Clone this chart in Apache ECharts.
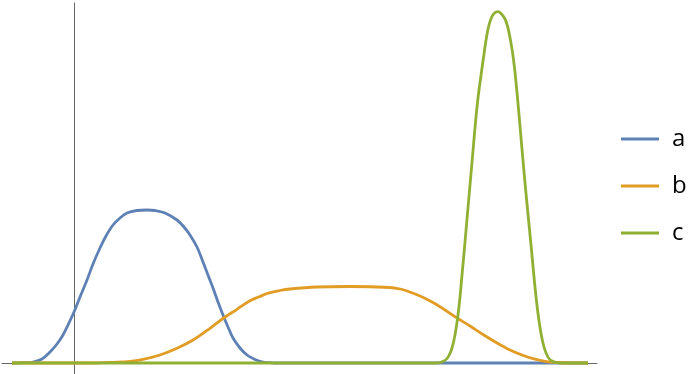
<!DOCTYPE html>
<html>
<head>
<meta charset="utf-8">
<script src="https://cdn.jsdelivr.net/npm/echarts@6/dist/echarts.min.js"></script>
<style>html,body{margin:0;padding:0;background:#fff;}#c{width:700px;height:374px;}</style>
</head>
<body>
<div id="c"></div>
<script>
// Arbitrary units (the reference has no tick labels)
var seriesNames = ["a", "b", "c"];
var aX = [-62,-49,-41,-32,-24,-17,-11,-6,0,6,13,19,26,32,39,46,53,63,73,81,91,103,110,116,123,129,134,139,144,149,154,159,166,173,181,189,198,206,514];
var aY = [0,0.3,1,4,11,19,28,38,51,66,83,99,115,127,138,145,150,152.5,153,152.5,150,143,136,128,116,101,88,75,61,48,36,25,15,8,3.5,1,0.2,0,0];
var bX = [-62,21,36,56,69,86,103,119,136,149,163,176,186,193,206,216,243,276,316,326,333,346,359,371,383,396,409,423,436,448,459,471,483,496,514];
var bY = [0,0,0.7,1.7,3.7,8,14.7,23,34.7,44.5,53.7,62.3,66.5,69.5,72.5,74,76,76.5,75.5,74,72,67,60.5,53,45,37,28.5,20,13,8,4.3,1.7,0.5,0,0];
var cX = [-62,356,361,366,370,373,376,378,380,382,384,386,388,390.3,393,396,399,401.7,404,406.5,409.3,412.7,415,417.7,420.5,423.7,427,431,433.5,435.3,437.5,439.3,441.5,445.3,451,457.5,460,462.5,465,467.5,470,472.5,475,478,482,487,514];
var cY = [0,0,0,0.5,2,4.5,9.5,15,23,34,48,66,88,113,144,178,212,243,265,284,304,327,338,346,350,351.3,349.5,344,337,329,317,305,286,245,180,113,86,62,42,27,16,9,4.5,2,0.5,0,0];
var colors = ["#5e81b5", "#e19c24", "#8fb032"];

function pairs(xs, ys) { return xs.map(function (x, i) { return [x, ys[i]]; }); }
var dataSets = [pairs(aX, aY), pairs(bX, bY), pairs(cX, cY)];

var chart = echarts.init(document.getElementById('c'), null, {renderer: 'canvas'});
chart.setOption({
  animation: false,
  backgroundColor: '#fff',
  grid: {left: 2, right: 103, top: 3, bottom: 0, containLabel: false},
  xAxis: {
    type: 'value', min: -72, max: 523,
    axisLine: {show: true, onZero: true, lineStyle: {color: '#666', width: 1}},
    axisTick: {show: false}, axisLabel: {show: false}, splitLine: {show: false}
  },
  yAxis: {
    type: 'value', min: -11, max: 360,
    axisLine: {show: true, onZero: true, lineStyle: {color: '#666', width: 1}},
    axisTick: {show: false}, axisLabel: {show: false}, splitLine: {show: false}
  },
  legend: {
    orient: 'vertical', left: 621, top: 124, padding: 0,
    icon: 'rect', itemWidth: 38, itemHeight: 3, itemGap: 17,
    textStyle: {fontFamily: 'Open Sans', fontSize: 24, color: '#000', lineHeight: 30, padding: [0, 0, 0, 8]},
    data: seriesNames
  },
  series: seriesNames.map(function (n, i) {
    return {
      name: n, type: 'line', data: dataSets[i],
      showSymbol: false, symbol: 'none',
      smooth: 0.35,
      color: colors[i],
      lineStyle: {color: colors[i], width: 2.8},
      z: 2 + i
    };
  })
});
</script>
</body>
</html>
